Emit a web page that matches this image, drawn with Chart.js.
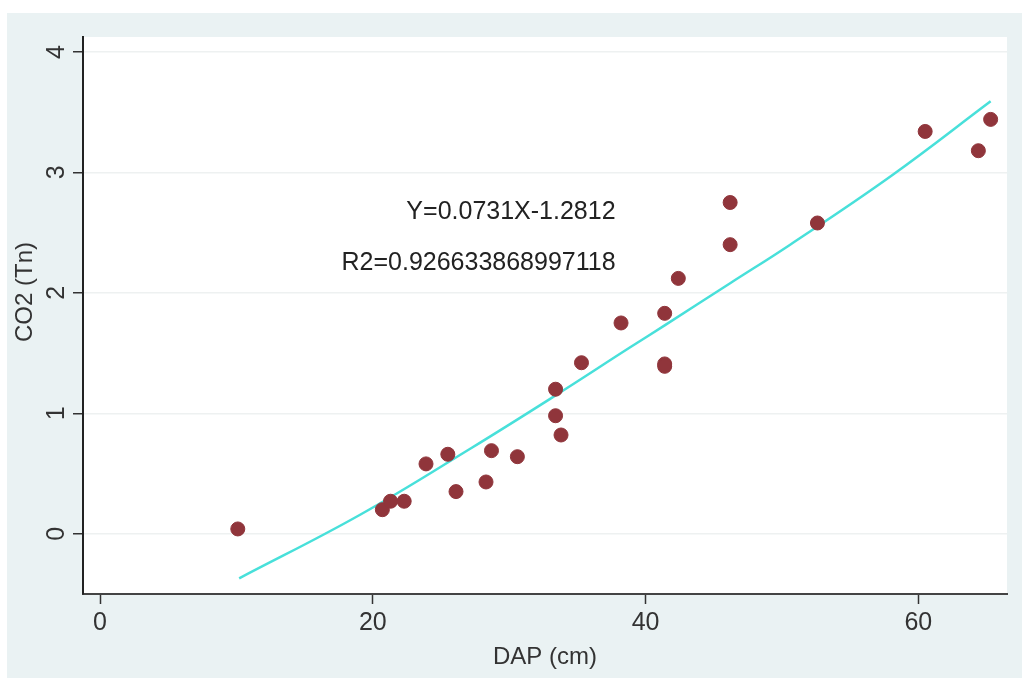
<!DOCTYPE html>
<html>
<head>
<meta charset="utf-8">
<script src="https://cdn.jsdelivr.net/npm/chart.js@4.4.0/dist/chart.umd.min.js"></script>
<style>
  html, body { margin: 0; padding: 0; background: #fff; }
  #wrap { width: 1022px; height: 678px; }
</style>
</head>
<body>
<div id="wrap"><canvas id="myChart" width="1022" height="678"></canvas></div>
<script>
// titik data (DAP cm vs CO2 Tn)
const dapCm = [10.1, 20.7, 21.3, 22.3, 23.9, 25.5, 26.1, 28.3, 28.7, 30.6, 33.4, 33.4, 33.8, 35.3, 38.2, 41.4, 41.4, 41.4, 42.4, 46.2, 46.2, 52.6, 60.5, 64.4, 65.3];
const co2Tn = [0.04, 0.20, 0.27, 0.27, 0.58, 0.66, 0.35, 0.43, 0.69, 0.64, 1.20, 0.98, 0.82, 1.42, 1.75, 1.83, 1.41, 1.39, 2.12, 2.75, 2.40, 2.58, 3.34, 3.18, 3.44];

// garis fit
const fitX = [10.2, 19.1, 27.2, 33.0, 38.9, 41.4, 46.2, 50.6, 58.0, 65.3];
const fitY = [-0.37, 0.16, 0.71, 1.12, 1.55, 1.73, 2.08, 2.40, 2.97, 3.59];

const xTicks = [0, 20, 40, 60];
const yTicks = [0, 1, 2, 3, 4];

const notes = ['Y=0.0731X-1.2812', 'R2=0.926633868997118'];
const noteX = [37.8, 37.8];
const noteY = [2.67, 2.25];

const FONT = '"Liberation Sans", Arial, sans-serif';

const panelBg = {
    id: 'panelBg',
    beforeDraw(chart) {
        const ctx = chart.ctx;
        const a = chart.chartArea;
        ctx.save();
        ctx.fillStyle = '#ffffff';
        ctx.fillRect(0, 0, chart.width, chart.height);
        ctx.fillStyle = '#eaf2f3';
        ctx.fillRect(7, 13, chart.width - 7, chart.height - 13);
        ctx.fillStyle = '#ffffff';
        ctx.fillRect(a.left, a.top, a.right - a.left, a.bottom - a.top);
        ctx.restore();
    },
    afterDraw(chart) {
        const ctx = chart.ctx;
        const sx = chart.scales.x;
        const sy = chart.scales.y;
        ctx.save();
        ctx.fillStyle = '#222';
        ctx.font = '25px ' + FONT;
        ctx.textAlign = 'right';
        ctx.textBaseline = 'middle';
        notes.forEach((t, i) => {
            ctx.fillText(t, sx.getPixelForValue(noteX[i]), sy.getPixelForValue(noteY[i]));
        });
        // judul sumbu y
        ctx.translate(25, 292);
        ctx.rotate(-Math.PI / 2);
        ctx.textAlign = 'center';
        ctx.fillStyle = '#333';
        ctx.font = '24px ' + FONT;
        ctx.fillText('CO2 (Tn)', 0, 0);
        ctx.restore();
    }
};

const points = dapCm.map((x, i) => ({ x: x, y: co2Tn[i] }));
const fitLine = fitX.map((x, i) => ({ x: x, y: fitY[i] }));

const ctx = document.getElementById('myChart').getContext('2d');
new Chart(ctx, {
    type: 'scatter',
    data: {
        datasets: [{
            label: 'CO2',
            data: points,
            backgroundColor: '#90353b',
            borderColor: '#90353b',
            pointRadius: 7,
            pointHoverRadius: 7
        },
        {
            type: 'line',
            label: 'Fit',
            data: fitLine,
            borderColor: '#48e0da',
            borderWidth: 2.5,
            pointRadius: 0,
            fill: false,
            tension: 0.4
        }]
    },
    options: {
        responsive: false,
        animation: false,
        events: [],
        layout: { padding: { top: 37, right: 15, left: 0, bottom: 0 } },
        plugins: {
            legend: { display: false },
            tooltip: { enabled: false }
        },
        scales: {
            x: {
                type: 'linear',
                min: -1.25,
                max: 66.5,
                afterBuildTicks: scale => { scale.ticks = xTicks.map(v => ({ value: v })); },
                afterFit: scale => { scale.height = 84; },
                border: { color: '#444', width: 2 },
                grid: { drawOnChartArea: false, drawTicks: true, tickLength: 10, tickColor: '#333', tickWidth: 1.5 },
                ticks: { color: '#333', font: { family: FONT, size: 25 }, padding: 4 },
                title: { display: true, text: 'DAP (cm)', color: '#333', font: { family: FONT, size: 24 }, padding: { top: 0, bottom: 6 } }
            },
            y: {
                type: 'linear',
                min: -0.5,
                max: 4.124,
                afterBuildTicks: scale => { scale.ticks = yTicks.map(v => ({ value: v })); },
                afterFit: scale => { scale.width = 83; },
                border: { color: '#222', width: 2 },
                grid: { color: '#eef1f1', lineWidth: 1.5, tickLength: 10, tickColor: '#333', tickWidth: 1.5 },
                ticks: { color: '#333', font: { family: FONT, size: 25 }, padding: 9, minRotation: 90, maxRotation: 90, crossAlign: 'center' }
            }
        }
    },
    plugins: [panelBg]
});
</script>
</body>
</html>
